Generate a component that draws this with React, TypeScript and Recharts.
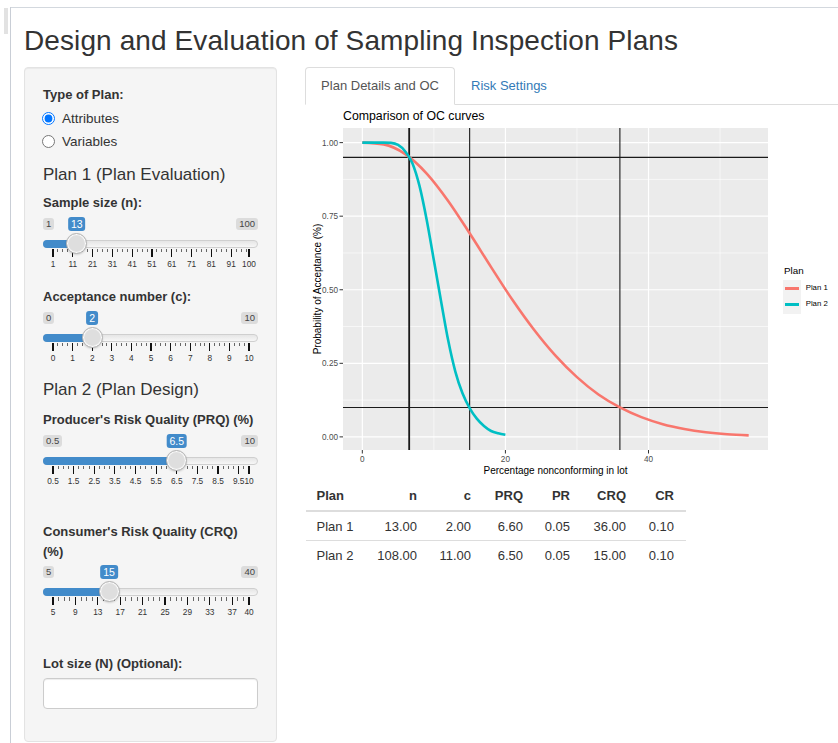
import React from "react";
import { LineChart, Line, XAxis, YAxis, CartesianGrid, ReferenceLine, Legend } from "recharts";

// ---- chart data ----
const plan1P = [0, 3, 6, 9, 12, 15, 18, 21, 24, 27, 30, 33, 36, 39, 42, 45, 48, 51, 54];
const plan1Pa = [1.0, 0.994, 0.961, 0.895, 0.802, 0.692, 0.577, 0.465, 0.364, 0.276, 0.203, 0.144, 0.1, 0.067, 0.043, 0.027, 0.016, 0.009, 0.005];
const plan2P = [0, 1, 2, 3, 4, 5, 6, 7, 8, 9, 10, 11, 12, 13, 14, 15, 16, 17, 18, 19, 20];
const plan2Pa = [1.0, 1.0, 1.0, 1.0, 0.999, 0.992, 0.97, 0.93, 0.852, 0.737, 0.6, 0.462, 0.328, 0.222, 0.148, 0.098, 0.062, 0.037, 0.02, 0.012, 0.007];
const seriesNames = ["Plan 1", "Plan 2"];
const seriesColors = ["#F8766D", "#00BFC4"];
const prqLines = [6.6, 6.5];
const crqLines = [36, 15];
const riskLines = [0.95, 0.1];
const xTicks = [0, 20, 40];
const xMinor = [10, 30, 50];
const yTicks = [0, 0.25, 0.5, 0.75, 1];
const yMinor = [0.125, 0.375, 0.625, 0.875];

// ---- table data ----
const tableHeader = ["Plan", "n", "c", "PRQ", "PR", "CRQ", "CR"];
const tableRows = [
  ["Plan 1", "13.00", "2.00", "6.60", "0.05", "36.00", "0.10"],
  ["Plan 2", "108.00", "11.00", "6.50", "0.05", "15.00", "0.10"],
];

// ---- slider settings ----
const slider1Grid = [1, 11, 21, 31, 41, 51, 61, 71, 81, 91, 100];
const slider2Grid = [0, 1, 2, 3, 4, 5, 6, 7, 8, 9, 10];
const slider3Grid = [0.5, 1.5, 2.5, 3.5, 4.5, 5.5, 6.5, 7.5, 8.5, 9.5, 10];
const slider4Grid = [5, 9, 13, 17, 21, 25, 29, 33, 37, 40];

const plan1Data = plan1P.map((p, i) => ({ p, pa: plan1Pa[i] }));
const plan2Data = plan2P.map((p, i) => ({ p, pa: plan2Pa[i] }));

const FONT = '"Liberation Sans", Arial, Helvetica, sans-serif';

function Txt({ x, cy, size = 13, bold = false, color = "#333", lh = 20, children }: any) {
  return (
    <div
      style={{
        position: "absolute",
        left: x,
        top: cy - lh / 2,
        height: lh,
        lineHeight: lh + "px",
        fontSize: size,
        fontWeight: bold ? 700 : 400,
        color,
        whiteSpace: "nowrap",
      }}
    >
      {children}
    </div>
  );
}

function Slider({ lc, min, max, value, grid }: any) {
  const x0 = 53;
  const x1 = 249;
  const pos = (v: number) => x0 + ((v - min) / (max - min)) * (x1 - x0);
  const hx = pos(value);
  const smallStep = (pos(grid[1]) - pos(grid[0])) / 4;
  const small: number[] = [];
  for (let i = 0; i < grid.length - 1; i++) {
    const a = pos(grid[i]);
    const b = pos(grid[i + 1]);
    for (let k = 1; k <= 3; k++) {
      const xx = a + k * smallStep;
      if (xx < b - 2) small.push(xx);
    }
  }
  const fmt = (v: number) => String(v);
  return (
    <>
      <div
        style={{
          position: "absolute",
          left: 43,
          top: lc - 6,
          height: 12,
          lineHeight: "12px",
          fontSize: 9.5,
          padding: "0 3px",
          background: "#dcdcdc",
          borderRadius: 3,
          color: "#444",
        }}
      >
        {fmt(min)}
      </div>
      <div
        style={{
          position: "absolute",
          right: 838 - 258,
          top: lc - 6,
          height: 12,
          lineHeight: "12px",
          fontSize: 9.5,
          padding: "0 3px",
          background: "#dcdcdc",
          borderRadius: 3,
          color: "#444",
        }}
      >
        {fmt(max)}
      </div>
      <div
        style={{
          position: "absolute",
          left: 43,
          width: 215,
          top: lc + 16,
          height: 8,
          boxSizing: "border-box",
          borderRadius: 8,
          border: "1px solid #cfcfcf",
          background: "linear-gradient(to bottom, #dddddd -50%, #ffffff 150%)",
        }}
      />
      <div
        style={{
          position: "absolute",
          left: 43,
          width: hx - 43,
          top: lc + 16,
          height: 8,
          background: "#428bca",
          borderRadius: "8px 0 0 8px",
        }}
      />
      {grid.map((g: number, i: number) => (
        <div key={"b" + i} style={{ position: "absolute", left: pos(g) - 0.6, top: lc + 25, width: 1.2, height: 8, background: "#111" }} />
      ))}
      {small.map((s, i) => (
        <div key={"s" + i} style={{ position: "absolute", left: s - 0.5, top: lc + 25, width: 1, height: 3.5, background: "#666" }} />
      ))}
      {grid.map((g: number, i: number) => (
        <div
          key={"l" + i}
          style={{
            position: "absolute",
            left: pos(g) - 20,
            width: 40,
            textAlign: "center",
            top: lc + 34,
            height: 12,
            lineHeight: "12px",
            fontSize: 8.3,
            color: "#333",
          }}
        >
          {fmt(g)}
        </div>
      ))}
      <div
        style={{
          position: "absolute",
          left: hx - 10.5,
          top: lc + 19.5 - 10.5,
          width: 21,
          height: 21,
          boxSizing: "border-box",
          borderRadius: "50%",
          border: "1px solid #b5b5b5",
          background: "#dedede",
          boxShadow: "inset 0 0 1px 1px #fff, 0 1px 2px rgba(0,0,0,0.15)",
        }}
      />
      <div
        style={{
          position: "absolute",
          left: hx,
          transform: "translateX(-50%)",
          top: lc - 7,
          height: 14,
          lineHeight: "14px",
          fontSize: 10.5,
          padding: "0 3px",
          background: "#428bca",
          color: "#fff",
          borderRadius: 3,
        }}
      >
        {fmt(value)}
      </div>
    </>
  );
}

function LegendContent(props: any) {
  const payload = props.payload || [];
  return (
    <div style={{ position: "relative", width: 56, height: 62, fontFamily: FONT }}>
      <div style={{ position: "absolute", left: 2, top: 4, fontSize: 9.8, lineHeight: "13px", color: "#000" }}>Plan</div>
      <div style={{ position: "absolute", left: 1, top: 20, width: 17.5, height: 34, background: "#F2F2F2" }} />
      {payload.map((entry: any, i: number) => (
        <React.Fragment key={i}>
          <div
            style={{
              position: "absolute",
              left: 2.5,
              top: 28.3 + i * 16 - 1.3,
              width: 14,
              height: 2.6,
              background: entry.color,
            }}
          />
          <div
            style={{
              position: "absolute",
              left: 23.7,
              top: 28.3 + i * 16 - 6,
              fontSize: 7.8,
              lineHeight: "12px",
              color: "#000",
              whiteSpace: "nowrap",
            }}
          >
            {entry.value}
          </div>
        </React.Fragment>
      ))}
    </div>
  );
}

function OCChart() {
  return (
    <LineChart
      width={538}
      height={385}
      margin={{ top: 28, right: 70, bottom: 0, left: 13 }}
      style={{ fontFamily: FONT }}
    >
      <CartesianGrid
        fill="#EBEBEB"
        stroke="#FFFFFF"
        strokeWidth={0.6}
        horizontalValues={yMinor}
        verticalValues={xMinor}
      />
      <CartesianGrid stroke="#FFFFFF" strokeWidth={1.2} horizontalValues={yTicks} verticalValues={xTicks} />
      <XAxis
        type="number"
        dataKey="p"
        domain={[-2.7, 56.7]}
        ticks={xTicks}
        allowDataOverflow
        axisLine={false}
        tickSize={3.5}
        tickMargin={3}
        tickLine={{ stroke: "#333333" }}
        tick={{ fontSize: 8.2, fill: "#4D4D4D" }}
        height={35}
        label={{
          value: "Percentage nonconforming in lot",
          position: "insideBottom",
          offset: 11,
          style: { fontSize: 10, fill: "#000" },
        }}
      />
      <YAxis
        type="number"
        domain={[-0.0446, 1.0497]}
        ticks={yTicks}
        allowDataOverflow
        axisLine={false}
        width={30}
        tickSize={3.5}
        tickMargin={1.5}
        tickLine={{ stroke: "#333333" }}
        tick={{ fontSize: 8.2, fill: "#4D4D4D" }}
        tickFormatter={(v: number) => v.toFixed(2)}
        label={{
          value: "Probability of Acceptance (%)",
          angle: -90,
          position: "insideLeft",
          offset: 4,
          style: { fontSize: 10, fill: "#000", textAnchor: "middle" },
        }}
      />
      {prqLines.concat(crqLines).map((v, i) => (
        <ReferenceLine key={"vx" + i} x={v} stroke="#1a1a1a" strokeWidth={1.1} ifOverflow="visible" />
      ))}
      {riskLines.map((v, i) => (
        <ReferenceLine key={"hy" + i} y={v} stroke="#1a1a1a" strokeWidth={1.1} />
      ))}
      <Line
        data={plan1Data}
        dataKey="pa"
        name={seriesNames[0]}
        type="monotone"
        stroke={seriesColors[0]}
        strokeWidth={2.6}
        dot={false}
        activeDot={false}
        isAnimationActive={false}
      />
      <Line
        data={plan2Data}
        dataKey="pa"
        name={seriesNames[1]}
        type="monotone"
        stroke={seriesColors[1]}
        strokeWidth={2.6}
        dot={false}
        activeDot={false}
        isAnimationActive={false}
      />
      <Legend
        layout="vertical"
        align="center"
        verticalAlign="middle"
        wrapperStyle={{ left: 482, top: 160, width: 56 }}
        content={LegendContent}
      />
    </LineChart>
  );
}

export default function App() {
  const colW = [70, 49, 54, 52, 47, 56, 52];
  return (
    <div
      style={{
        position: "absolute",
        left: 0,
        top: 0,
        width: 838,
        height: 743,
        overflow: "hidden",
        background: "#fff",
        fontFamily: FONT,
        color: "#333",
      }}
    >
      {/* window frame */}
      <div style={{ position: "absolute", left: 10, top: 7, width: 828, height: 1, background: "#d3d8de" }} />
      <div style={{ position: "absolute", left: 10, top: 7, width: 1, height: 736, background: "#c9ced6" }} />
      <div style={{ position: "absolute", left: 4, top: 8, width: 4, height: 26, background: "#e2e2e2" }} />

      {/* title */}
      <div
        style={{
          position: "absolute",
          left: 24,
          top: 24,
          lineHeight: "34px",
          fontSize: 28,
          color: "#333",
          whiteSpace: "nowrap",
          letterSpacing: "0.1px",
        }}
      >
        Design and Evaluation of Sampling Inspection Plans
      </div>

      {/* sidebar well */}
      <div
        style={{
          position: "absolute",
          left: 24,
          top: 67,
          width: 253,
          height: 675,
          boxSizing: "border-box",
          background: "#f5f5f5",
          border: "1px solid #e3e3e3",
          borderRadius: 4,
          boxShadow: "inset 0 1px 1px rgba(0,0,0,0.05)",
        }}
      />
      <Txt x={43} cy={95} bold size={13}>Type of Plan:</Txt>
      <input
        type="radio"
        checked
        readOnly
        style={{ position: "absolute", left: 42, top: 112, width: 13, height: 13, margin: 0 }}
      />
      <Txt x={62} cy={118.5} size={13.5}>Attributes</Txt>
      <input
        type="radio"
        checked={false}
        readOnly
        style={{ position: "absolute", left: 42, top: 135, width: 13, height: 13, margin: 0 }}
      />
      <Txt x={62} cy={141.5} size={13.5}>Variables</Txt>
      <Txt x={43} cy={175} size={17}>Plan 1 (Plan Evaluation)</Txt>
      <Txt x={43} cy={203} bold size={13}>Sample size (n):</Txt>
      <Slider lc={223.5} min={1} max={100} value={13} grid={slider1Grid} />
      <Txt x={43} cy={297} bold size={13}>Acceptance number (c):</Txt>
      <Slider lc={317.5} min={0} max={10} value={2} grid={slider2Grid} />
      <Txt x={43} cy={390} size={17}>Plan 2 (Plan Design)</Txt>
      <Txt x={43} cy={419.5} bold size={13}>Producer's Risk Quality (PRQ) (%)</Txt>
      <Slider lc={440.5} min={0.5} max={10} value={6.5} grid={slider3Grid} />
      <Txt x={43} cy={531.5} bold size={13}>Consumer's Risk Quality (CRQ)</Txt>
      <Txt x={43} cy={551.5} bold size={13}>(%)</Txt>
      <Slider lc={572} min={5} max={40} value={15} grid={slider4Grid} />
      <Txt x={43} cy={664} bold size={13}>Lot size (N) (Optional):</Txt>
      <div
        style={{
          position: "absolute",
          left: 43,
          top: 678,
          width: 215,
          height: 31,
          boxSizing: "border-box",
          background: "#fff",
          border: "1px solid #ccc",
          borderRadius: 4,
          boxShadow: "inset 0 1px 1px rgba(0,0,0,0.075)",
        }}
      />

      {/* tabs */}
      <div style={{ position: "absolute", left: 455, top: 104, width: 383, height: 1, background: "#ddd" }} />
      <div
        style={{
          position: "absolute",
          left: 305,
          top: 67,
          width: 150,
          height: 38,
          boxSizing: "border-box",
          border: "1px solid #ddd",
          borderBottom: "1px solid #fff",
          borderRadius: "4px 4px 0 0",
          background: "#fff",
          textAlign: "center",
          lineHeight: "36px",
          fontSize: 13,
          color: "#555",
        }}
      >
        Plan Details and OC
      </div>
      <Txt x={471} cy={86} size={13} color="#337ab7">Risk Settings</Txt>

      {/* chart title */}
      <Txt x={343} cy={116} size={12.3} color="#000">Comparison of OC curves</Txt>

      {/* chart */}
      <div style={{ position: "absolute", left: 300, top: 100, width: 538, height: 385 }}>
        <OCChart />
      </div>

      {/* table */}
      <div style={{ position: "absolute", left: 306, top: 480, width: 380, fontSize: 13 }}>
        <div style={{ display: "flex", height: 30, alignItems: "center", borderBottom: "2px solid #ddd" }}>
          {tableHeader.map((h, i) => (
            <div
              key={i}
              style={{
                width: colW[i],
                boxSizing: "border-box",
                textAlign: i === 0 ? "left" : "right",
                paddingLeft: i === 0 ? 10.5 : 0,
                paddingRight: i === 0 ? 0 : i === 6 ? 12 : 8,
                fontWeight: 700,
                color: "#333",
              }}
            >
              {h}
            </div>
          ))}
        </div>
        {tableRows.map((row, r) => (
          <div
            key={r}
            style={{
              display: "flex",
              height: 28,
              alignItems: "center",
              borderBottom: r === 0 ? "1px solid #ddd" : "none",
            }}
          >
            {row.map((c, i) => (
              <div
                key={i}
                style={{
                  width: colW[i],
                  boxSizing: "border-box",
                  textAlign: i === 0 ? "left" : "right",
                  paddingLeft: i === 0 ? 10.5 : 0,
                  paddingRight: i === 0 ? 0 : i === 6 ? 12 : 8,
                  color: "#333",
                }}
              >
                {c}
              </div>
            ))}
          </div>
        ))}
      </div>
    </div>
  );
}
